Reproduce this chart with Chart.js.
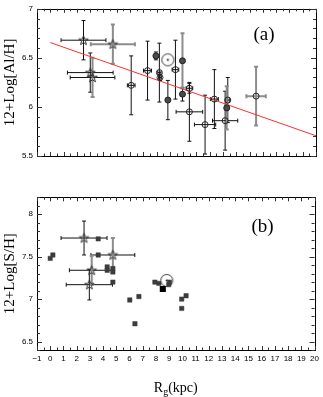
<!DOCTYPE html>
<html>
<head>
<meta charset="utf-8">
<script src="https://cdn.jsdelivr.net/npm/chart.js@4.4.0/dist/chart.umd.min.js"></script>
<style>
  body { margin: 0; background: #fff; }
  canvas { display: block; }
</style>
</head>
<body>
<canvas id="chartA" width="323" height="180"></canvas>
<canvas id="chartB" width="323" height="217"></canvas>
<script>
// axis ticks
const xTicks = [-1, 0, 1, 2, 3, 4, 5, 6, 7, 8, 9, 10, 11, 12, 13, 14, 15, 16, 17, 18, 19, 20];
const yTicksA = [5.5, 6, 6.5, 7];
const yTicksB = [6.5, 7, 7.5, 8];

// ---- panel (a) : 12+Log[Al/H] ----
const aStarBlackX = [2.50, 3.01];
const aStarBlackY = [6.68, 6.35];
const aStarBlackEx = [1.69, 1.72];
const aStarBlackEy = [0.20, 0.20];

const aStarGrayX = [4.71];
const aStarGrayY = [6.64];
const aStarGrayEx = [1.66];
const aStarGrayEy = [0.20];

const aStarMixX = [3.18];
const aStarMixY = [6.30];
const aStarMixEx = [1.68];
const aStarMixEy = [0.20];

const aOpenX = [6.09, 7.32, 8.21, 8.26, 9.42, 10.47, 10.47, 11.65, 12.35, 13.36, 13.16];
const aOpenY = [6.22, 6.37, 6.35, 6.30, 6.38, 6.19, 5.95, 5.82, 6.08, 6.07, 5.86];
const aOpenEx = [0.29, 0.30, 0.12, 0.10, 0.25, 0.25, 1.00, 0.80, 0.30, 0.15, 0.95];
const aOpenEy = [0.30, 0.30, 0.30, 0.03, 0.30, 0.05, 0.30, 0.30, 0.30, 0.23, 0.30];

const aFilledX = [7.95, 8.85, 9.95];
const aFilledY = [6.52, 6.07, 6.13];
const aFilledEx = [0.13, 0.10, 0.15];
const aFilledEy = [0.04, 0.20, 0.07];

const aFilledGrayX = [9.95, 13.28];
const aFilledGrayY = [6.47, 5.99];
const aFilledGrayEx = [0, 0.15];
const aFilledGrayEy = [0.28, 0.22];

const aOpenGrayX = [15.49];
const aOpenGrayY = [6.11];
const aOpenGrayEx = [0.73];
const aOpenGrayEy = [0.30];

const aSunX = [8.85];
const aSunY = [6.48];

const fitX = [0, 20];
const fitY = [6.656, 5.706];

// ---- panel (b) : 12+Log[S/H] ----
const bSquareX = [0.0, 0.2, 3.63, 3.63, 4.31, 4.31, 4.74, 4.74, 4.74, 6.02, 6.71, 6.41, 7.92, 8.22, 8.97, 9.02, 9.95, 10.28, 9.95];
const bSquareY = [7.48, 7.52, 7.71, 7.52, 7.38, 7.34, 7.36, 7.32, 7.20, 6.99, 7.03, 6.71, 7.20, 7.185, 7.17, 7.20, 7.00, 7.04, 6.89];

const bBigX = [8.52];
const bBigY = [7.12];

const bSunX = [8.82];
const bSunY = [7.22];

const bStarBlackX = [2.56, 2.96];
const bStarBlackY = [7.72, 7.17];
const bStarBlackEx = [1.74, 1.75];
const bStarBlackEy = [0.20, 0.18];

const bStarMixX = [4.74, 3.14];
const bStarMixY = [7.52, 7.34];
const bStarMixEx = [1.66, 1.69];
const bStarMixEy = [0.20, 0.17];

const BLACK = '#111';
const GRAY = '#8c8c8c';

Chart.defaults.font.family = 'Liberation Sans';
Chart.defaults.color = '#000';

function pts(xs, ys) {
  return xs.map((x, i) => ({ x: x, y: ys[i] }));
}

// marker images
function makeStar() {
  const c = document.createElement('canvas');
  c.width = 13; c.height = 13;
  const g = c.getContext('2d');
  g.strokeStyle = '#333';
  g.lineWidth = 1;
  g.beginPath();
  for (let i = 0; i < 10; i++) {
    const r = i % 2 ? 2.0 : 5.0;
    const a = -Math.PI / 2 + i * Math.PI / 5;
    const px = 6.5 + r * Math.cos(a), py = 6.8 + r * Math.sin(a);
    if (i == 0) g.moveTo(px, py); else g.lineTo(px, py);
  }
  g.closePath();
  g.stroke();
  return c;
}
function makeSun() {
  const c = document.createElement('canvas');
  c.width = 15; c.height = 15;
  const g = c.getContext('2d');
  g.strokeStyle = '#222';
  g.lineWidth = 0.9;
  g.beginPath();
  g.arc(7.5, 7.5, 6, 0, Math.PI * 2);
  g.stroke();
  g.fillStyle = '#000';
  g.beginPath();
  g.arc(7.5, 7.5, 1, 0, Math.PI * 2);
  g.fill();
  return c;
}
const starImg = makeStar();
const sunImg = makeSun();

function errSet(xs, ys, ex, ey, colX, colY, style) {
  return Object.assign({
    data: pts(xs, ys),
    errX: ex, errY: ey,
    colX: colX, colY: colY,
    wX: colX == GRAY ? 2 : 1, wY: colY == GRAY ? 2 : 1
  }, style);
}

const starStyle = { pointStyle: starImg, pointRadius: 4 };
const openStyle = { pointStyle: 'circle', pointRadius: 3, borderColor: '#222', borderWidth: 1, backgroundColor: 'rgba(0,0,0,0)' };
const filledStyle = { pointStyle: 'circle', pointRadius: 3, borderColor: '#222', borderWidth: 1, backgroundColor: '#4a4a4a' };

// error bars drawn under the markers
const errorBars = {
  id: 'errorBars',
  beforeDatasetsDraw(chart) {
    const { ctx, scales: { x, y } } = chart;
    ctx.save();
    chart.data.datasets.forEach(ds => {
      if (!ds.errX) return;
      ds.data.forEach((p, i) => {
        const cx = x.getPixelForValue(p.x), cy = y.getPixelForValue(p.y);
        const ex = ds.errX[i], ey = ds.errY[i];
        if (ex) {
          const x1 = x.getPixelForValue(p.x - ex), x2 = x.getPixelForValue(p.x + ex);
          ctx.strokeStyle = ds.colX; ctx.lineWidth = ds.wX;
          ctx.beginPath();
          ctx.moveTo(x1, cy); ctx.lineTo(x2, cy);
          ctx.moveTo(x1, cy - 2); ctx.lineTo(x1, cy + 2);
          ctx.moveTo(x2, cy - 2); ctx.lineTo(x2, cy + 2);
          ctx.stroke();
        }
        if (ey) {
          const y1 = y.getPixelForValue(p.y - ey), y2 = y.getPixelForValue(p.y + ey);
          ctx.strokeStyle = ds.colY; ctx.lineWidth = ds.wY;
          ctx.beginPath();
          ctx.moveTo(cx, y1); ctx.lineTo(cx, y2);
          ctx.moveTo(cx - 2, y1); ctx.lineTo(cx + 2, y1);
          ctx.moveTo(cx - 2, y2); ctx.lineTo(cx + 2, y2);
          ctx.stroke();
        }
      });
    });
    ctx.restore();
  }
};

// box frame with inward ticks, panel tag, x title
const frame = {
  id: 'frame',
  afterDraw(chart, args, opts) {
    const { ctx, chartArea: a, scales: { x, y } } = chart;
    ctx.save();
    ctx.strokeStyle = '#000';
    ctx.lineWidth = 1;
    ctx.strokeRect(Math.round(a.left) + 0.5, Math.round(a.top) + 0.5, Math.round(a.right - a.left), Math.round(a.bottom - a.top));
    ctx.strokeStyle = '#333';
    ctx.beginPath();
    for (let k = Math.round(x.min * 2); k <= Math.round(x.max * 2); k++) {
      const v = k / 2;
      const px = Math.round(x.getPixelForValue(v)) + 0.5;
      const len = k % 2 == 0 ? 4 : 2.5;
      ctx.moveTo(px, a.bottom); ctx.lineTo(px, a.bottom - len);
      ctx.moveTo(px, a.top); ctx.lineTo(px, a.top + len);
    }
    for (let k = Math.ceil(y.min * 10 - 1e-6); k <= Math.floor(y.max * 10 + 1e-6); k++) {
      const py = Math.round(y.getPixelForValue(k / 10)) + 0.5;
      const len = k % 5 == 0 ? 5 : 3;
      ctx.moveTo(a.left, py); ctx.lineTo(a.left + len, py);
      ctx.moveTo(a.right, py); ctx.lineTo(a.right - len, py);
    }
    ctx.stroke();

    ctx.fillStyle = '#000';
    ctx.font = '19px "Liberation Serif"';
    ctx.textAlign = 'center';
    ctx.textBaseline = 'middle';
    ctx.fillText(opts.tag, a.right - 52, a.top + opts.tagDy);

    if (opts.xTitle) {
      const cx = (a.left + a.right) / 2;
      const base = a.bottom + 41.5;
      ctx.textBaseline = 'alphabetic';
      ctx.textAlign = 'left';
      ctx.font = '14px "Liberation Serif"';
      const wR = ctx.measureText('R').width;
      const wP = ctx.measureText('(kpc)').width;
      ctx.font = '10px "Liberation Serif"';
      const wG = ctx.measureText('g').width;
      let sx = cx - (wR + wG + wP) / 2;
      ctx.font = '14px "Liberation Serif"';
      ctx.fillText('R', sx, base);
      ctx.font = '10px "Liberation Serif"';
      ctx.fillText('g', sx + wR, base + 3);
      ctx.font = '14px "Liberation Serif"';
      ctx.fillText('(kpc)', sx + wR + wG, base);
    }
    ctx.restore();
  }
};

function axes(yMin, yMax, yTicks, yTitle, showX, xHeight) {
  return {
    x: {
      type: 'linear', min: -1, max: 20,
      grid: { display: false, drawTicks: false },
      border: { display: false },
      afterBuildTicks: s => { s.ticks = xTicks.map(v => ({ value: v })); },
      afterFit: s => { s.height = xHeight; },
      ticks: {
        display: showX, autoSkip: false, maxRotation: 0, padding: 4,
        font: { size: 8 },
        callback: v => v < 0 ? '\u2212' + Math.abs(v) : String(v)
      }
    },
    y: {
      type: 'linear', min: yMin, max: yMax,
      grid: { display: false, drawTicks: false },
      border: { display: false },
      afterBuildTicks: s => { s.ticks = yTicks.map(v => ({ value: v })); },
      afterFit: s => { s.width = 37; },
      ticks: { padding: 4, font: { size: 8 }, callback: v => String(v) },
      title: {
        display: true, text: yTitle, color: '#000',
        font: { family: 'Liberation Serif', size: 15 },
        padding: { top: 1, bottom: 0 }
      }
    }
  };
}

const common = {
  responsive: false,
  animation: false,
  events: [],
  plugins: { legend: { display: false }, tooltip: { enabled: false } }
};

new Chart(document.getElementById('chartA'), {
  type: 'scatter',
  data: {
    datasets: [
      errSet(aStarBlackX, aStarBlackY, aStarBlackEx, aStarBlackEy, BLACK, BLACK, starStyle),
      errSet(aStarGrayX, aStarGrayY, aStarGrayEx, aStarGrayEy, GRAY, GRAY, starStyle),
      errSet(aStarMixX, aStarMixY, aStarMixEx, aStarMixEy, BLACK, GRAY, starStyle),
      errSet(aOpenX, aOpenY, aOpenEx, aOpenEy, BLACK, BLACK, openStyle),
      errSet(aFilledX, aFilledY, aFilledEx, aFilledEy, BLACK, BLACK, filledStyle),
      errSet(aFilledGrayX, aFilledGrayY, aFilledGrayEx, aFilledGrayEy, BLACK, GRAY, filledStyle),
      errSet(aOpenGrayX, aOpenGrayY, aOpenGrayEx, aOpenGrayEy, GRAY, GRAY, openStyle),
      { data: pts(aSunX, aSunY), pointStyle: sunImg, pointRadius: 6 },
      {
        type: 'line', data: pts(fitX, fitY), showLine: true,
        borderColor: '#ff3030', borderWidth: 1, pointRadius: 0
      }
    ]
  },
  options: Object.assign({}, common, {
    layout: { padding: { left: 0, right: 6.5, top: 3.5, bottom: 0 } },
    scales: axes(5.5, 7, yTicksA, '12+Log[Al/H]', false, 24),
    plugins: Object.assign({}, common.plugins, { frame: { tag: '(a)', tagDy: 26 } })
  }),
  plugins: [errorBars, frame]
});

new Chart(document.getElementById('chartB'), {
  type: 'scatter',
  data: {
    datasets: [
      errSet(bStarBlackX, bStarBlackY, bStarBlackEx, bStarBlackEy, BLACK, BLACK, starStyle),
      errSet(bStarMixX, bStarMixY, bStarMixEx, bStarMixEy, BLACK, GRAY, starStyle),
      { data: pts(bBigX, bBigY), pointStyle: 'rect', pointRadius: 4.3, backgroundColor: '#000', borderColor: '#000', borderWidth: 0 },
      { data: pts(bSquareX, bSquareY), pointStyle: 'rect', pointRadius: 3.1, backgroundColor: '#3c3c3c', borderColor: '#3c3c3c', borderWidth: 0.5 },
      { data: pts(bSunX, bSunY), pointStyle: sunImg, pointRadius: 6 }
    ]
  },
  options: Object.assign({}, common, {
    layout: { padding: { left: 0, right: 6.5, top: 17.3, bottom: 0 } },
    scales: axes(6.4, 8.2, yTicksB, '12+Log[S/H]', true, 47),
    plugins: Object.assign({}, common.plugins, { frame: { tag: '(b)', tagDy: 30, xTitle: true } })
  }),
  plugins: [errorBars, frame]
});
</script>
</body>
</html>
